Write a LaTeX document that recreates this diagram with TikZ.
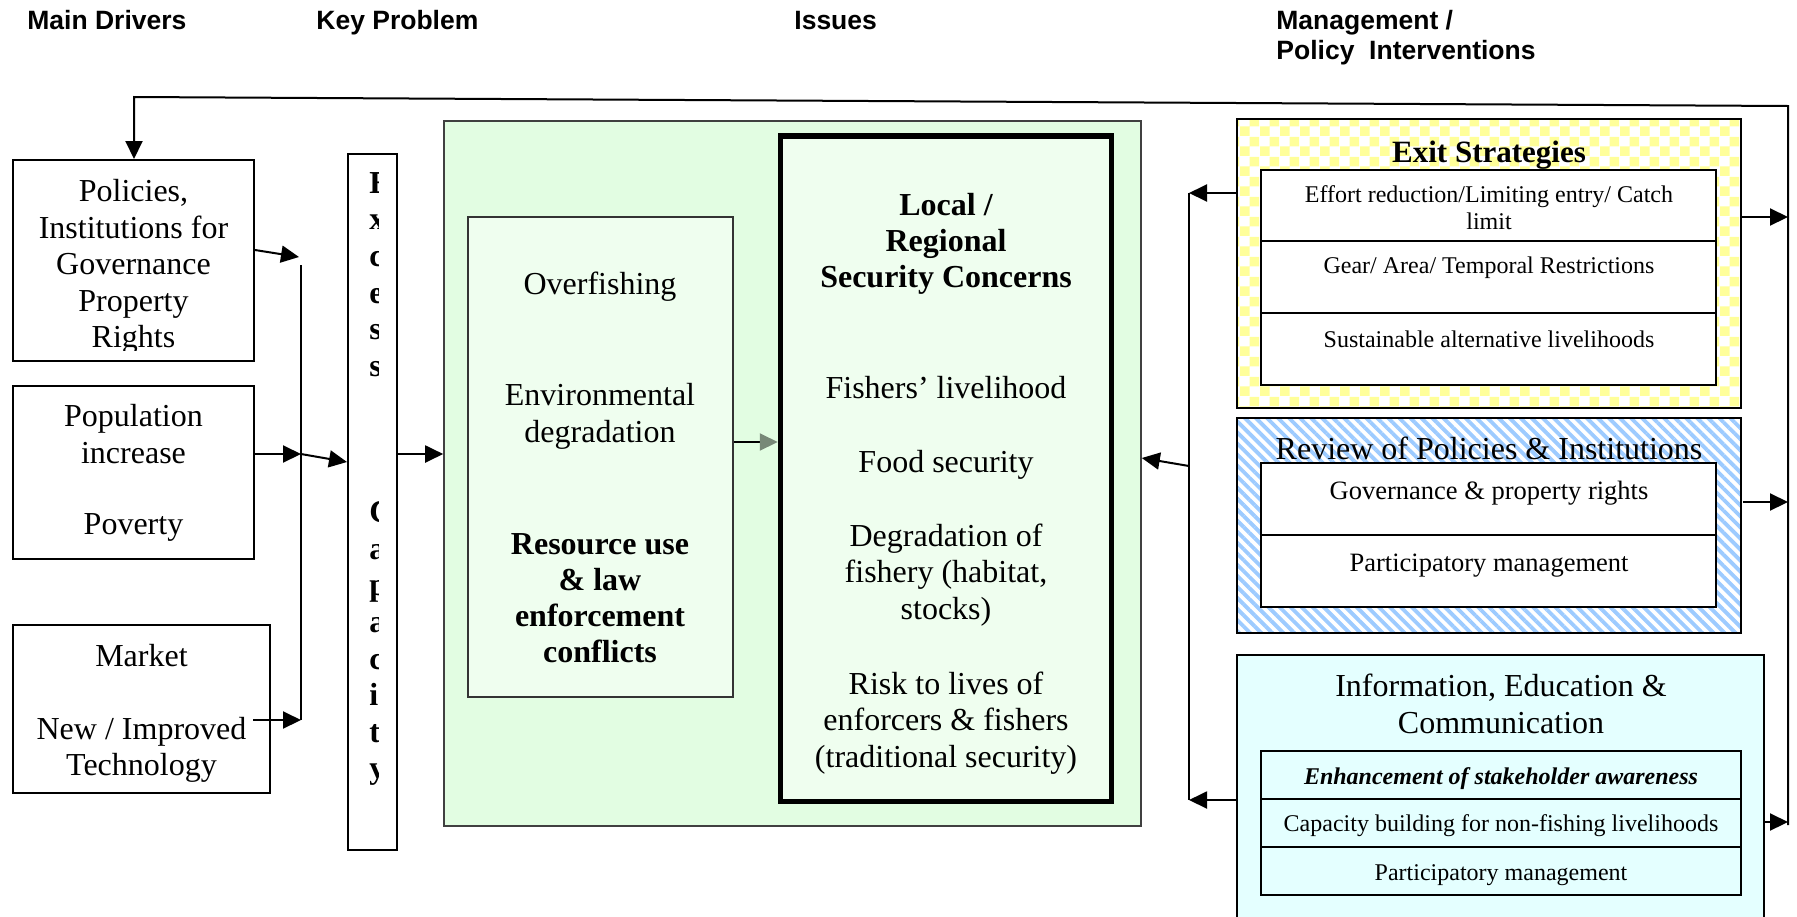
\documentclass[tikz,border=0pt]{standalone}
\usepackage{fontspec}
\setmainfont{Liberation Serif}
\newfontfamily\hdr{Liberation Sans}
\usetikzlibrary{arrows.meta,patterns,patterns.meta,fit,calc}
\definecolor{grnout}{HTML}{E2FDE2}
\definecolor{grnin}{HTML}{EFFEEF}
\definecolor{cyanbg}{HTML}{E4FFFF}
\definecolor{chk}{HTML}{FFFF99}
\definecolor{stripe}{HTML}{9DCBFF}
\definecolor{garrow}{HTML}{778877}
\pgfdeclarepatternformonly{bigcheck}{\pgfpointorigin}{\pgfqpoint{10pt}{10pt}}{\pgfqpoint{10pt}{10pt}}{%
  \pgfpathrectangle{\pgfpointorigin}{\pgfqpoint{5pt}{5pt}}%
  \pgfpathrectangle{\pgfqpoint{5pt}{5pt}}{\pgfqpoint{5pt}{5pt}}%
  \pgfusepath{fill}}
\begin{document}
\begin{tikzpicture}[x=0.5pt,y=-0.5pt,
  box/.style={draw, line width=1pt, inner sep=0pt},
  arr/.style={line width=1pt, -{Triangle[length=9pt,width=8.5pt]}},
  ln/.style={line width=1pt},
  tx/.style={inner sep=0pt, align=center, font=\fontsize{16}{18.2}\selectfont},
  txb/.style={inner sep=0pt, align=center, font=\fontsize{16}{18.1}\selectfont\bfseries},
  sm/.style={inner sep=0pt, align=center, font=\fontsize{12}{13.5}\selectfont},
  md/.style={inner sep=0pt, align=center, font=\fontsize{13.25}{15}\selectfont},
  hd/.style={inner sep=0pt, align=left, font=\hdr\bfseries\fontsize{13.25}{13}\selectfont}
]
\useasboundingbox (0,0) rectangle (1797,916);
\clip (0,0) rectangle (1797,916);

% headers
\node[hd, anchor=base west] (hmain) at (27,29) {Main Drivers};
\node[hd, anchor=base west] (hkey) at (316,29) {Key Problem};
\node[hd, anchor=base west] (hiss) at (794,29) {Issues};
\node[hd, anchor=base west] (hman1) at (1276,29) {Management /};
\node[hd, anchor=base west] (hman2) at (1276,59) {Policy\ \ Interventions};

% drivers
\node[box, fit={(13,160) (254,361)}] (pol) {};
\node[box, fit={(13,386) (254,559)}] (pop) {};
\node[box, fit={(13,625) (270,793)}] (mkt) {};
\begin{scope}
\clip (13,160) rectangle (254,350);
\node[tx] (polt) at (133.5,267) {Policies,\\Institutions for\\Governance\\Property\\Rights};
\end{scope}
\node[tx] (popt) at (133.5,434) {Population\\increase};
\node[tx] (povt) at (133.5,527) {Poverty};
\node[tx] (mktt) at (141.5,656) {Market};
\node[tx] (techt) at (141.5,750) {New / Improved\\Technology};

% excess capacity
\node[box, fit={(348,154) (397,850)}] (exc) {};
\begin{scope}
\clip (348,154) rectangle (378.5,850);
\node[inner sep=0pt, align=left, anchor=north west, font=\fontsize{16}{18.3}\selectfont\bfseries] (exct) at (369,172)
  {E\\x\\c\\e\\s\\s\\\mbox{}\\\mbox{}\\\mbox{}\\C\\a\\p\\a\\c\\i\\t\\y};
\end{scope}

% issues
\node[draw=black!75, line width=0.8pt, fill=grnout, inner sep=0pt, fit={(444,121) (1141,826)}] (grn) {};
\node[draw=black!80, line width=0.8pt, fill=grnin, inner sep=0pt, fit={(468,217) (733,697)}] (lft) {};
\node[tx] (ovf) at (600,287) {Overfishing};
\node[tx] (env) at (600,416.5) {Environmental\\degradation};
\node[txb] (res) at (600,598) {Resource use\\\& law\\enforcement\\conflicts};
\node[draw, line width=2.75pt, fill=grnin, inner sep=0pt, fit={(780.5,136) (1111.5,801.5)}] (ctr) {};
\node[txb] (loc) at (946,244) {Local /\\Regional\\Security Concerns};
\node[tx] (fsh) at (946,388) {Fishers’ livelihood};
\node[tx] (food) at (946,465) {Food security};
\node[tx] (deg) at (946,575) {Degradation of\\fishery (habitat,\\stocks)};
\node[tx] (risk) at (946,723) {Risk to lives of\\enforcers \& fishers\\(traditional security)};

% exit strategies
\node[box, preaction={fill=white}, pattern=bigcheck, pattern color=chk, fit={(1237,119) (1741,408)}] (exit) {};
\node[inner sep=0pt, font=\fontsize{15.5}{17}\selectfont\bfseries] (exitt) at (1489,155) {Exit Strategies};
\node[box, fill=white, fit={(1261,170) (1716,241)}] (e1) {};
\node[box, fill=white, fit={(1261,241) (1716,313)}] (e2) {};
\node[box, fill=white, fit={(1261,313) (1716,385)}] (e3) {};
\node[sm] (e1t) at (1489,208) {Effort reduction/Limiting entry/ Catch\\limit};
\node[sm] (e2t) at (1489,268) {Gear/ Area/ Temporal Restrictions};
\node[sm] (e3t) at (1489,339) {Sustainable alternative livelihoods};

% review
\node[box, preaction={fill=white}, pattern={Lines[angle=-45,distance=3.9pt,line width=1.9pt]}, pattern color=stripe, fit={(1237,418) (1741,633)}] (rev) {};
\node[tx] (revt) at (1489,448) {Review of Policies \& Institutions};
\node[box, fill=white, fit={(1261,463) (1716,535)}] (r1) {};
\node[box, fill=white, fit={(1261,535) (1716,607)}] (r2) {};
\node[md] (r1t) at (1489,493) {Governance \& property rights};
\node[md] (r2t) at (1489,566) {Participatory management};

% IEC
\node[box, fill=cyanbg, fit={(1237,655) (1764,940)}] (iec) {};
\node[tx] (iect) at (1501,704) {Information, Education \&\\Communication};
\node[box, fill=cyanbg, fit={(1261,751) (1741,799)}] (i1) {};
\node[box, fill=cyanbg, fit={(1261,799) (1741,847)}] (i2) {};
\node[box, fill=cyanbg, fit={(1261,847) (1741,895)}] (i3) {};
\node[sm, font=\fontsize{12}{13.5}\selectfont\bfseries\itshape] (i1t) at (1501,779) {Enhancement of stakeholder awareness};
\node[sm] (i2t) at (1501,826) {Capacity building for non-fishing livelihoods};
\node[sm] (i3t) at (1501,875) {Participatory management};

% coordinates
\coordinate (ctop) at (301,265);
\coordinate (cbot) at (301,720);
\coordinate (cmid) at (301,454);
\coordinate (cA) at (299,257);
\coordinate (pA) at (0,250);
\coordinate (eB) at (0,462);
\coordinate (gA) at (0,454);
\coordinate (gB) at (0,442);
\coordinate (tl) at (134,97);
\coordinate (rv1) at (1788,106);
\coordinate (rv2) at (1788,825);
\coordinate (ra1) at (1788,217);
\coordinate (ra2) at (1788,502);
\coordinate (ra3) at (1788,822);
\coordinate (lv1) at (1189,193);
\coordinate (lv2) at (1189,800);
\coordinate (lvm) at (1189,466);
\coordinate (gt) at (0,458);

% connectors left
\draw[ln] (ctop) -- (cbot);
\draw[arr] (pol.east |- pA) -- (cA);
\draw[arr] (pop.east |- cmid) -- (cmid);
\draw[arr] (cmid) -- (exc.west |- eB);
\draw[arr] ($(mkt.east |- cbot)+(-18,0)$) -- (cbot);
\draw[arr] (exc.east |- gA) -- (grn.west |- gA);
\draw[line width=1pt, -{Triangle[length=9pt,width=8.5pt,color=garrow]}] (lft.east |- gB) -- (ctr.west |- gB);

% connectors right
\draw[ln] (lv1) -- (lv2);
\draw[arr] (exit.west |- lv1) -- (lv1);
\draw[arr] (iec.west |- lv2) -- (lv2);
\draw[arr] (lvm) -- (grn.east |- gt);
\draw[arr] (exit.east |- ra1) -- (ra1);
\draw[arr] (rev.east |- ra2) -- (ra2);
\draw[arr] (iec.east |- ra3) -- (ra3);
\draw[arr] (rv2) -- (rv1) -- (tl) -- (tl |- pol.north);
\end{tikzpicture}
\end{document}
